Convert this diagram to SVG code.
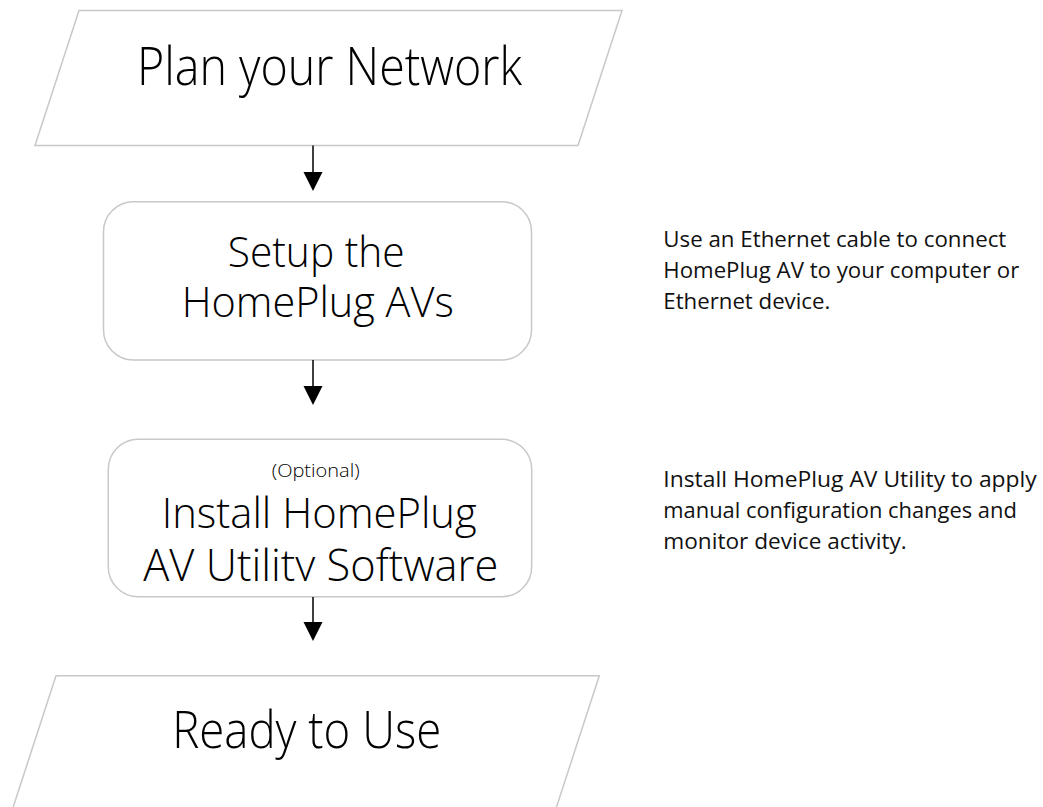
<svg xmlns="http://www.w3.org/2000/svg" width="1043" height="807" viewBox="0 0 1043 807">
  <style>
    .shape { fill: #ffffff; stroke: #c8c8c8; stroke-width: 1.5; }
    .big { font-family: "Open Sans", "Noto Sans", sans-serif; font-weight: 300; fill: #000000; }
    .note { font-family: "Open Sans", "Noto Sans", sans-serif; font-size: 21px; fill: #111111; }
    .conn { stroke: #000000; stroke-width: 1.5; fill: none; }
  </style>
  <defs>
    <marker id="arrow" markerUnits="userSpaceOnUse" markerWidth="20" markerHeight="20" refX="16" refY="9.5" orient="auto">
      <path d="M0,0 L19,9.5 L0,19 Z" fill="#000000"/>
    </marker>
    <clipPath id="clipBox3">
      <rect x="100" y="430" width="440" height="151"/>
    </clipPath>
  </defs>
  <rect width="1043" height="807" fill="#ffffff"/>

  <g id="node-plan">
    <polygon class="shape" points="79,10.5 622,10.5 578,145.5 35,145.5"/>
    <text class="big" x="137" y="85" font-size="54" textLength="385" lengthAdjust="spacingAndGlyphs">Plan your Network</text>
  </g>

  <g id="node-setup">
    <rect class="shape" x="103.5" y="201.7" width="428" height="158.3" rx="30" ry="30"/>
    <text class="big" x="227.7" y="267" font-size="43" textLength="177" lengthAdjust="spacingAndGlyphs">Setup the</text>
    <text class="big" x="181.7" y="316.7" font-size="43" textLength="272" lengthAdjust="spacingAndGlyphs">HomePlug AVs</text>
  </g>

  <g id="node-install">
    <rect class="shape" x="108.3" y="439.3" width="423.4" height="157.4" rx="30" ry="30"/>
    <text class="big" x="271.7" y="477" font-size="18" textLength="88" lengthAdjust="spacingAndGlyphs">(Optional)</text>
    <text class="big" x="161.7" y="528.3" font-size="43" textLength="315" lengthAdjust="spacingAndGlyphs">Install HomePlug</text>
    <g clip-path="url(#clipBox3)">
      <text class="big" x="143.3" y="580.5" font-size="44" textLength="355" lengthAdjust="spacingAndGlyphs">AV Utility Software</text>
    </g>
  </g>

  <g id="node-ready">
    <polygon class="shape" points="56,675.7 599.3,675.7 555.3,810.7 12,810.7"/>
    <text class="big" x="172.2" y="748.3" font-size="52" textLength="269" lengthAdjust="spacingAndGlyphs">Ready to Use</text>
  </g>

  <g id="note-setup">
    <text class="note" x="663.3" y="247" textLength="343" lengthAdjust="spacingAndGlyphs">Use an Ethernet cable to connect</text>
    <text class="note" x="663.3" y="278.3" textLength="356" lengthAdjust="spacingAndGlyphs">HomePlug AV to your computer or</text>
    <text class="note" x="663.3" y="309.3" textLength="167" lengthAdjust="spacingAndGlyphs">Ethernet device.</text>
  </g>

  <g id="note-install">
    <text class="note" x="663.3" y="487.3" textLength="373.5" lengthAdjust="spacingAndGlyphs">Install HomePlug AV Utility to apply</text>
    <text class="note" x="663.3" y="518.3" textLength="353.5" lengthAdjust="spacingAndGlyphs">manual configuration changes and</text>
    <text class="note" x="663.3" y="549.3" textLength="243.5" lengthAdjust="spacingAndGlyphs">monitor device activity.</text>
  </g>

  <g id="connectors">
    <line class="conn" x1="313" y1="145.5" x2="313" y2="188" marker-end="url(#arrow)"/>
    <line class="conn" x1="313" y1="360" x2="313" y2="402" marker-end="url(#arrow)"/>
    <line class="conn" x1="313" y1="597" x2="313" y2="638" marker-end="url(#arrow)"/>
  </g>
</svg>
